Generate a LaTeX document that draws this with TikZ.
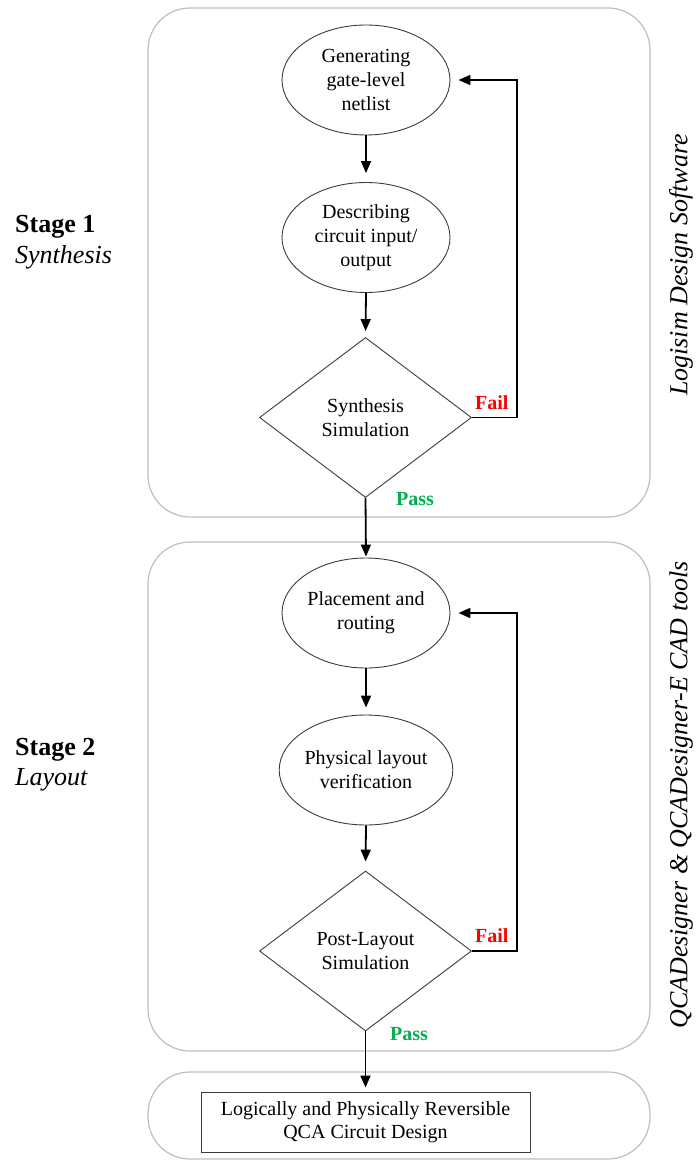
\documentclass[tikz,border=0pt]{standalone}
\usepackage{fontspec}
\setmainfont{Liberation Serif}
\usetikzlibrary{shapes.geometric,arrows.meta}
\definecolor{panelgray}{RGB}{190,190,190}
\definecolor{outline}{RGB}{60,60,60}
\definecolor{failred}{RGB}{255,0,0}
\definecolor{passgreen}{RGB}{0,176,80}
\tikzset{
  panel/.style={draw=panelgray, line width=1.2pt, rounded corners=42pt},
  oval/.style={ellipse, draw=outline, line width=0.9pt, minimum width=168pt,
    minimum height=110pt, inner sep=0pt, align=center,
    font=\fontsize{20}{24}\selectfont},
  decision/.style={diamond, draw=outline, line width=0.9pt, aspect=1.325,
    minimum width=212pt, minimum height=160pt, inner sep=0pt, align=center,
    font=\fontsize{20}{24}\selectfont},
  resultbox/.style={rectangle, draw=outline, line width=0.9pt, minimum width=329pt,
    minimum height=60pt, inner sep=0pt, align=center,
    font=\fontsize{20}{23}\selectfont},
  flow/.style={line width=1.8pt, -{Triangle[length=12pt,width=10pt]}},
  faillbl/.style={anchor=base west, inner sep=0pt, text=failred,
    font=\fontsize{20}{24}\selectfont\bfseries},
  passlbl/.style={anchor=base west, inner sep=0pt, text=passgreen,
    font=\fontsize{20}{24}\selectfont\bfseries},
  stagelbl/.style={anchor=base west, inner sep=0pt, font=\fontsize{26}{30}\selectfont},
  toollbl/.style={rotate=90, inner sep=0pt, font=\fontsize{26}{30}\selectfont\itshape}
}
\begin{document}
\begin{tikzpicture}[x=1pt,y=-1pt]
\useasboundingbox (0,0) rectangle (696,1161);

% stage panels
\draw[panel] (148,8) rectangle (650,517);
\draw[panel] (148,542) rectangle (650,1051);
\draw[panel] (148,1072) rectangle (650,1159);

% stage 1: synthesis
\node[oval] (gen) at (366,80) {Generating\\gate-level\\netlist};
\node[oval] (desc) at (366,237.5) {Describing\\circuit input/\\output};
\node[decision] (synsim) at (365.5,417.5) {Synthesis\\Simulation};

% stage 2: layout
\node[oval] (place) at (366,613) {Placement and\\routing};
\node[oval] (phys) at (366,770) {Physical layout\\verification};
\node[decision] (postsim) at (365.5,951) {Post-Layout\\Simulation};

% final design
\node[resultbox] (design) at (365.5,1122) {Logically and Physically Reversible\\QCA Circuit Design};

% main flow
\draw[flow, shorten >=9pt] (gen.south) -- (desc.north);
\draw[flow, shorten >=6pt] (desc.south) -- (synsim.north);
\draw[flow, shorten >=1pt] (synsim.south) -- (place.north);
\draw[flow, shorten >=7pt] (place.south) -- (phys.north);
\draw[flow, shorten >=9pt] (phys.south) -- (postsim.north);
\draw[flow, shorten >=4pt] (postsim.south) -- (design.north);

% failure loops
\draw[flow, shorten >=8pt] (synsim.east) -- ++(45,0) |- (gen.east);
\draw[flow, shorten >=8pt] (postsim.east) -- ++(45,0) |- (place.east);

% decision outcomes
\node[faillbl] (fail1) at (475,409) {Fail};
\node[passlbl] (pass1) at (396,505) {Pass};
\node[faillbl] (fail2) at (475,942) {Fail};
\node[passlbl] (pass2) at (390,1040) {Pass};

% stage titles
\node[stagelbl] (st1) at (15,233) {\bfseries Stage 1};
\node[stagelbl] (st1b) at (15,263) {\itshape Synthesis};
\node[stagelbl] (st2) at (15,755) {\bfseries Stage 2};
\node[stagelbl] (st2b) at (15,785) {\itshape Layout};

% tool names
\node[toollbl] (tool1) at (681,265) {Logisim Design Software};
\node[toollbl] (tool2) at (681,795) {QCADesigner \& QCADesigner-E CAD tools};
\end{tikzpicture}
\end{document}
